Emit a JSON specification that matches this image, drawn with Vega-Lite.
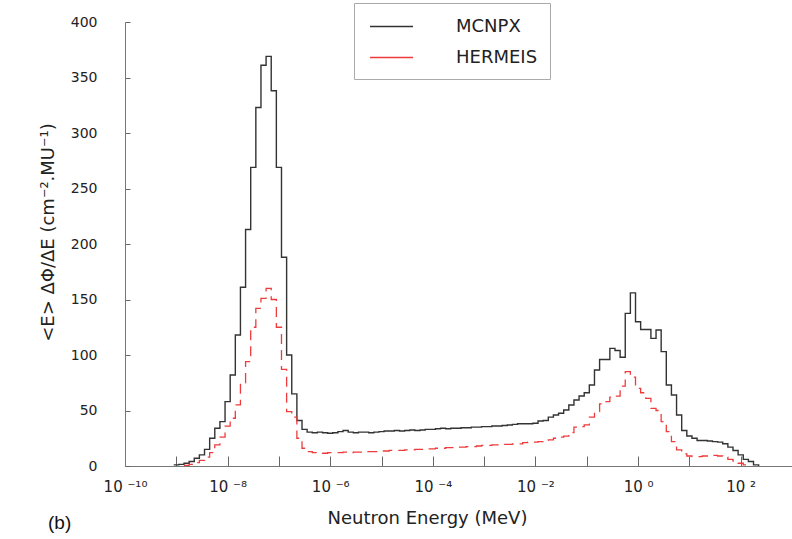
{
"$schema":"https://vega.github.io/schema/vega-lite/v6.json",
"width":667,"height":444,
"autosize":{"type":"none"},
"padding":{"left":125,"top":22,"right":0,"bottom":73},
"background":"white",
"config":{"view":{"stroke":null},"font":"DejaVu Sans"},
"title":{"text":"(b)","orient":"bottom","anchor":"start","frame":"group","dx":-77,"dy":-17,"fontSize":19,"fontWeight":"normal","font":"Liberation Sans","color":"#111"},
"data":{"values":[
{"s":"MCNPX","e":8.913e-10,"v":1},{"s":"MCNPX","e":1.122e-9,"v":1.5},{"s":"MCNPX","e":1.413e-9,"v":2.5},{"s":"MCNPX","e":1.778e-9,"v":4},{"s":"MCNPX","e":2.239e-9,"v":7},{"s":"MCNPX","e":2.818e-9,"v":10},{"s":"MCNPX","e":3.548e-9,"v":15},{"s":"MCNPX","e":4.467e-9,"v":25},{"s":"MCNPX","e":5.623e-9,"v":34},{"s":"MCNPX","e":7.079e-9,"v":40},
{"s":"MCNPX","e":8.913e-9,"v":58},{"s":"MCNPX","e":1.122e-8,"v":82},{"s":"MCNPX","e":1.413e-8,"v":118},{"s":"MCNPX","e":1.778e-8,"v":161},{"s":"MCNPX","e":2.239e-8,"v":213},{"s":"MCNPX","e":2.818e-8,"v":269},{"s":"MCNPX","e":3.548e-8,"v":323},{"s":"MCNPX","e":4.467e-8,"v":361},{"s":"MCNPX","e":5.623e-8,"v":369},{"s":"MCNPX","e":7.079e-8,"v":338},
{"s":"MCNPX","e":8.913e-8,"v":269},{"s":"MCNPX","e":1.122e-7,"v":188},{"s":"MCNPX","e":1.413e-7,"v":100},{"s":"MCNPX","e":1.778e-7,"v":65},{"s":"MCNPX","e":2.239e-7,"v":41},{"s":"MCNPX","e":2.818e-7,"v":33},{"s":"MCNPX","e":3.548e-7,"v":30.5},{"s":"MCNPX","e":4.467e-7,"v":30},{"s":"MCNPX","e":5.623e-7,"v":30.5},{"s":"MCNPX","e":7.079e-7,"v":30},
{"s":"MCNPX","e":8.913e-7,"v":29.5},{"s":"MCNPX","e":1.122e-6,"v":30},{"s":"MCNPX","e":1.413e-6,"v":31},{"s":"MCNPX","e":1.778e-6,"v":32},{"s":"MCNPX","e":2.239e-6,"v":30.5},{"s":"MCNPX","e":2.818e-6,"v":30},{"s":"MCNPX","e":3.548e-6,"v":30.5},{"s":"MCNPX","e":4.467e-6,"v":30.5},{"s":"MCNPX","e":5.623e-6,"v":30},{"s":"MCNPX","e":7.079e-6,"v":30.5},
{"s":"MCNPX","e":8.913e-6,"v":31},{"s":"MCNPX","e":1.122e-5,"v":31.5},{"s":"MCNPX","e":1.413e-5,"v":31.5},{"s":"MCNPX","e":1.778e-5,"v":32},{"s":"MCNPX","e":2.239e-5,"v":31.5},{"s":"MCNPX","e":2.818e-5,"v":32},{"s":"MCNPX","e":3.548e-5,"v":32.5},{"s":"MCNPX","e":4.467e-5,"v":32},{"s":"MCNPX","e":5.623e-5,"v":32.5},{"s":"MCNPX","e":7.079e-5,"v":33},
{"s":"MCNPX","e":8.913e-5,"v":33},{"s":"MCNPX","e":1.122e-4,"v":33.5},{"s":"MCNPX","e":1.413e-4,"v":34},{"s":"MCNPX","e":1.778e-4,"v":33.5},{"s":"MCNPX","e":2.239e-4,"v":34},{"s":"MCNPX","e":2.818e-4,"v":34},{"s":"MCNPX","e":3.548e-4,"v":34.5},{"s":"MCNPX","e":4.467e-4,"v":34.5},{"s":"MCNPX","e":5.623e-4,"v":35},{"s":"MCNPX","e":7.079e-4,"v":35},
{"s":"MCNPX","e":8.913e-4,"v":35.5},{"s":"MCNPX","e":1.122e-3,"v":35.5},{"s":"MCNPX","e":1.413e-3,"v":36},{"s":"MCNPX","e":1.778e-3,"v":36},{"s":"MCNPX","e":2.239e-3,"v":36.5},{"s":"MCNPX","e":2.818e-3,"v":37},{"s":"MCNPX","e":3.548e-3,"v":37.5},{"s":"MCNPX","e":4.467e-3,"v":38},{"s":"MCNPX","e":5.623e-3,"v":38},{"s":"MCNPX","e":7.079e-3,"v":38},
{"s":"MCNPX","e":8.913e-3,"v":38.5},{"s":"MCNPX","e":1.122e-2,"v":40.5},{"s":"MCNPX","e":1.413e-2,"v":41},{"s":"MCNPX","e":1.778e-2,"v":44},{"s":"MCNPX","e":2.239e-2,"v":46},{"s":"MCNPX","e":2.818e-2,"v":47.5},{"s":"MCNPX","e":3.548e-2,"v":50.5},{"s":"MCNPX","e":4.467e-2,"v":55},{"s":"MCNPX","e":5.623e-2,"v":59.5},{"s":"MCNPX","e":7.079e-2,"v":63},
{"s":"MCNPX","e":8.913e-2,"v":66},{"s":"MCNPX","e":0.1122,"v":73},{"s":"MCNPX","e":0.1413,"v":86.5},{"s":"MCNPX","e":0.1778,"v":96},{"s":"MCNPX","e":0.2239,"v":96},{"s":"MCNPX","e":0.2818,"v":106},{"s":"MCNPX","e":0.3548,"v":104},{"s":"MCNPX","e":0.4467,"v":98},{"s":"MCNPX","e":0.5623,"v":137.5},{"s":"MCNPX","e":0.7079,"v":156},
{"s":"MCNPX","e":0.8913,"v":130},{"s":"MCNPX","e":1.122,"v":123},{"s":"MCNPX","e":1.413,"v":123},{"s":"MCNPX","e":1.778,"v":115},{"s":"MCNPX","e":2.239,"v":122.5},{"s":"MCNPX","e":2.818,"v":103},{"s":"MCNPX","e":3.548,"v":73},{"s":"MCNPX","e":4.467,"v":64},{"s":"MCNPX","e":5.623,"v":46},{"s":"MCNPX","e":7.079,"v":32},
{"s":"MCNPX","e":8.913,"v":27},{"s":"MCNPX","e":11.22,"v":25},{"s":"MCNPX","e":14.13,"v":23},{"s":"MCNPX","e":17.78,"v":23},{"s":"MCNPX","e":22.39,"v":22.5},{"s":"MCNPX","e":28.18,"v":22},{"s":"MCNPX","e":35.48,"v":21.5},{"s":"MCNPX","e":44.67,"v":20},{"s":"MCNPX","e":56.23,"v":17},{"s":"MCNPX","e":70.79,"v":14},
{"s":"MCNPX","e":89.13,"v":10},{"s":"MCNPX","e":112.2,"v":6},{"s":"MCNPX","e":141.3,"v":4},{"s":"MCNPX","e":177.8,"v":1},{"s":"MCNPX","e":223.9,"v":0},
{"s":"HERMEIS","e":1.413e-9,"v":0.5},{"s":"HERMEIS","e":1.778e-9,"v":1.5},{"s":"HERMEIS","e":2.239e-9,"v":3},{"s":"HERMEIS","e":2.818e-9,"v":5},{"s":"HERMEIS","e":3.548e-9,"v":8},{"s":"HERMEIS","e":4.467e-9,"v":12},{"s":"HERMEIS","e":5.623e-9,"v":19},{"s":"HERMEIS","e":7.079e-9,"v":26},
{"s":"HERMEIS","e":8.913e-9,"v":36},{"s":"HERMEIS","e":1.122e-8,"v":43},{"s":"HERMEIS","e":1.413e-8,"v":55},{"s":"HERMEIS","e":1.778e-8,"v":75},{"s":"HERMEIS","e":2.239e-8,"v":94},{"s":"HERMEIS","e":2.818e-8,"v":125},{"s":"HERMEIS","e":3.548e-8,"v":142},{"s":"HERMEIS","e":4.467e-8,"v":151},{"s":"HERMEIS","e":5.623e-8,"v":160},{"s":"HERMEIS","e":7.079e-8,"v":150},
{"s":"HERMEIS","e":8.913e-8,"v":125},{"s":"HERMEIS","e":1.122e-7,"v":87},{"s":"HERMEIS","e":1.413e-7,"v":49},{"s":"HERMEIS","e":1.778e-7,"v":44},{"s":"HERMEIS","e":2.239e-7,"v":25},{"s":"HERMEIS","e":2.818e-7,"v":16},{"s":"HERMEIS","e":3.548e-7,"v":13},{"s":"HERMEIS","e":4.467e-7,"v":12},{"s":"HERMEIS","e":5.623e-7,"v":12},{"s":"HERMEIS","e":7.079e-7,"v":11.5},
{"s":"HERMEIS","e":8.913e-7,"v":12},{"s":"HERMEIS","e":1.122e-6,"v":12},{"s":"HERMEIS","e":1.413e-6,"v":12},{"s":"HERMEIS","e":1.778e-6,"v":12.5},{"s":"HERMEIS","e":2.239e-6,"v":12},{"s":"HERMEIS","e":2.818e-6,"v":12.5},{"s":"HERMEIS","e":3.548e-6,"v":12.5},{"s":"HERMEIS","e":4.467e-6,"v":13},{"s":"HERMEIS","e":5.623e-6,"v":13},{"s":"HERMEIS","e":7.079e-6,"v":13},
{"s":"HERMEIS","e":8.913e-6,"v":13.5},{"s":"HERMEIS","e":1.122e-5,"v":13.5},{"s":"HERMEIS","e":1.413e-5,"v":14},{"s":"HERMEIS","e":1.778e-5,"v":14},{"s":"HERMEIS","e":2.239e-5,"v":14},{"s":"HERMEIS","e":2.818e-5,"v":14.5},{"s":"HERMEIS","e":3.548e-5,"v":14.5},{"s":"HERMEIS","e":4.467e-5,"v":15},{"s":"HERMEIS","e":5.623e-5,"v":15},{"s":"HERMEIS","e":7.079e-5,"v":15.5},
{"s":"HERMEIS","e":8.913e-5,"v":15.5},{"s":"HERMEIS","e":1.122e-4,"v":16},{"s":"HERMEIS","e":1.413e-4,"v":16},{"s":"HERMEIS","e":1.778e-4,"v":16.5},{"s":"HERMEIS","e":2.239e-4,"v":16.5},{"s":"HERMEIS","e":2.818e-4,"v":17},{"s":"HERMEIS","e":3.548e-4,"v":17},{"s":"HERMEIS","e":4.467e-4,"v":17.5},{"s":"HERMEIS","e":5.623e-4,"v":17.5},{"s":"HERMEIS","e":7.079e-4,"v":18},
{"s":"HERMEIS","e":8.913e-4,"v":18.5},{"s":"HERMEIS","e":1.122e-3,"v":18.5},{"s":"HERMEIS","e":1.413e-3,"v":19},{"s":"HERMEIS","e":1.778e-3,"v":19},{"s":"HERMEIS","e":2.239e-3,"v":19.5},{"s":"HERMEIS","e":2.818e-3,"v":19.5},{"s":"HERMEIS","e":3.548e-3,"v":20},{"s":"HERMEIS","e":4.467e-3,"v":20},{"s":"HERMEIS","e":5.623e-3,"v":21},{"s":"HERMEIS","e":7.079e-3,"v":21.5},
{"s":"HERMEIS","e":8.913e-3,"v":21.5},{"s":"HERMEIS","e":1.122e-2,"v":22},{"s":"HERMEIS","e":1.413e-2,"v":23},{"s":"HERMEIS","e":1.778e-2,"v":23.5},{"s":"HERMEIS","e":2.239e-2,"v":25},{"s":"HERMEIS","e":2.818e-2,"v":26},{"s":"HERMEIS","e":3.548e-2,"v":27},{"s":"HERMEIS","e":4.467e-2,"v":30},{"s":"HERMEIS","e":5.623e-2,"v":35},{"s":"HERMEIS","e":7.079e-2,"v":35.5},
{"s":"HERMEIS","e":8.913e-2,"v":37},{"s":"HERMEIS","e":0.1122,"v":44},{"s":"HERMEIS","e":0.1413,"v":49},{"s":"HERMEIS","e":0.1778,"v":56},{"s":"HERMEIS","e":0.2239,"v":58},{"s":"HERMEIS","e":0.2818,"v":62},{"s":"HERMEIS","e":0.3548,"v":63},{"s":"HERMEIS","e":0.4467,"v":72},{"s":"HERMEIS","e":0.5623,"v":85},{"s":"HERMEIS","e":0.7079,"v":80},
{"s":"HERMEIS","e":0.8913,"v":70},{"s":"HERMEIS","e":1.122,"v":66},{"s":"HERMEIS","e":1.413,"v":61},{"s":"HERMEIS","e":1.778,"v":52},{"s":"HERMEIS","e":2.239,"v":50},{"s":"HERMEIS","e":2.818,"v":40},{"s":"HERMEIS","e":3.548,"v":31},{"s":"HERMEIS","e":4.467,"v":22},{"s":"HERMEIS","e":5.623,"v":14.5},{"s":"HERMEIS","e":7.079,"v":11},
{"s":"HERMEIS","e":8.913,"v":9},{"s":"HERMEIS","e":11.22,"v":8.5},{"s":"HERMEIS","e":14.13,"v":8.5},{"s":"HERMEIS","e":17.78,"v":9},{"s":"HERMEIS","e":22.39,"v":9},{"s":"HERMEIS","e":28.18,"v":9.5},{"s":"HERMEIS","e":35.48,"v":9},{"s":"HERMEIS","e":44.67,"v":8},{"s":"HERMEIS","e":56.23,"v":6},{"s":"HERMEIS","e":70.79,"v":4.5},
{"s":"HERMEIS","e":89.13,"v":2.5},{"s":"HERMEIS","e":112.2,"v":1},{"s":"HERMEIS","e":141.3,"v":0}
]},
"encoding":{
"x":{"field":"e","type":"quantitative","scale":{"type":"log","domain":[1e-10,1000],"nice":false},
 "axis":{"title":"Neutron Energy (MeV)","values":[1e-10,1e-9,1e-8,1e-7,1e-6,1e-5,1e-4,1e-3,1e-2,1e-1,1,10,100],
 "tickSize":-10,"tickColor":"#666","domainColor":"#777","grid":false,"labelPadding":23,"labelFontSize":15,"labelColor":"#222","labelFlush":false,"labelOverlap":false,
 "labelExpr":"round(log(datum.value)/LN10)==-10?'10 ⁻¹⁰':round(log(datum.value)/LN10)==-8?'10 ⁻⁸':round(log(datum.value)/LN10)==-6?'10 ⁻⁶':round(log(datum.value)/LN10)==-4?'10 ⁻⁴':round(log(datum.value)/LN10)==-2?'10 ⁻²':round(log(datum.value)/LN10)==0?'10 ⁰':round(log(datum.value)/LN10)==2?'10 ²':''",
 "titleFontSize":18,"titleFontWeight":"normal","titleColor":"#222","titleX":302,"titleY":57,"titleBaseline":"alphabetic"}},
"y":{"field":"v","type":"quantitative","scale":{"domain":[0,400],"nice":false},
 "axis":{"title":"<E> ΔΦ/ΔE (cm⁻².MU⁻¹)","values":[0,50,100,150,200,250,300,350,400],"tickSize":-5,"tickColor":"#666","domainColor":"#777","grid":false,"labelPadding":33,"labelFontSize":14,"labelColor":"#222",
 "titleFontSize":18,"titleFontWeight":"normal","titleColor":"#222","titleX":-77,"titleY":210,"titleAngle":-90,"titleBaseline":"middle","titleAlign":"center"}},
"color":{"field":"s","type":"nominal","scale":{"domain":["MCNPX","HERMEIS"],"range":["#333333","#ee3b3b"]},
 "legend":{"orient":"none","legendX":229,"legendY":-19,"title":null,"symbolType":"M-2,0H2","symbolSize":462,"symbolStrokeWidth":1.5,"symbolOffset":14,"labelFontSize":18,"labelOffset":53,"labelColor":"#222","padding":12,"strokeColor":"#aaa","fillColor":"white","rowPadding":10}}
},
"layer":[
{"transform":[{"filter":"datum.s=='MCNPX'"}],"mark":{"type":"line","interpolate":"step-after","strokeWidth":1.4}},
{"transform":[{"filter":"datum.s=='HERMEIS'"}],"mark":{"type":"line","interpolate":"step-after","strokeWidth":1.3,"strokeDash":[10,6]}}
]
}
